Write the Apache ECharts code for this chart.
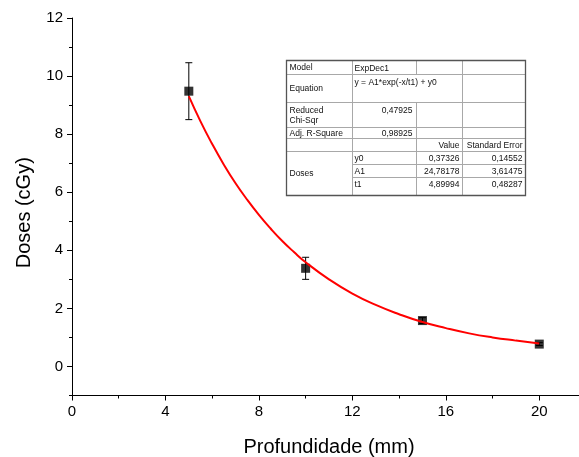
<!DOCTYPE html>
<html>
<head>
<meta charset="utf-8">
<script src="https://cdn.jsdelivr.net/npm/echarts@6/dist/echarts.min.js"></script>
<style>
  html, body { margin: 0; padding: 0; background: #fff; }
  #chart { width: 579px; height: 457px; }
</style>
</head>
<body>
<div id="chart"></div>
<script>
// measured points
const depths = [5, 10, 15, 20];
const doses = [9.48, 3.38, 1.58, 0.77];
const doseErrors = [0.98, 0.38, 0.1, 0.05];

// fitted curve
const fitX = [5, 5.5, 6, 6.5, 7, 7.5, 8, 8.5, 9, 9.5, 10, 11, 12, 13, 14, 15, 16, 17, 18, 19, 20];
const fitY = [9.31, 8.44, 7.66, 6.95, 6.31, 5.74, 5.22, 4.75, 4.32, 3.94, 3.59, 3.0, 2.51, 2.12, 1.8, 1.53, 1.32, 1.14, 1.0, 0.89, 0.79];

// tick labels
const xMajor = [0, 4, 8, 12, 16, 20];
const xMinor = [2, 6, 10, 14, 18, 22];
const yMajor = [0, 2, 4, 6, 8, 10, 12];
const yMinor = [-1, 1, 3, 5, 7, 9, 11];

// fit report table
const fitLabels = ['Model', 'Equation', 'Reduced\nChi-Sqr', 'Adj. R-Square'];
const fitValues = ['ExpDec1', 'y = A1*exp(-x/t1) + y0', '0,47925', '0,98925'];
const paramHeader = ['Value', 'Standard Error'];
const paramNames = ['y0', 'A1', 't1'];
const paramValues = ['0,37326', '24,78178', '4,89994'];
const paramErrors = ['0,14552', '3,61475', '0,48287'];
const seriesName = 'Doses';

const FONT = '"Liberation Sans", Arial, sans-serif';

// table layout (pixels)
const cx = [286.5, 352.5, 416.5, 462.5, 525.5];
const ry = [60.5, 74.5, 102.5, 127.5, 138.5, 151.5, 164.5, 177.5, 195.5];
const tFont = 8.5;
const inner = '#a8a8a8';
const outer = '#555';

function hline(y, x1, x2, c, w) {
  return { type: 'line', silent: true, shape: { x1: x1, y1: y, x2: x2, y2: y }, style: { stroke: c, lineWidth: w || 1 } };
}
function vline(x, y1, y2, c, w) {
  return { type: 'line', silent: true, shape: { x1: x, y1: y1, x2: x, y2: y2 }, style: { stroke: c, lineWidth: w || 1 } };
}
function txt(s, x, y, align, vAlign) {
  return {
    type: 'text', silent: true, x: x, y: y,
    style: { text: s, fontSize: tFont, fontFamily: FONT, fill: '#111', align: align, verticalAlign: vAlign, lineHeight: 9.5 }
  };
}

const table = [];
table.push({ type: 'rect', silent: true, shape: { x: cx[0], y: ry[0], width: cx[4] - cx[0], height: ry[8] - ry[0] }, style: { fill: '#fff', stroke: null } });
// horizontal lines
for (let i = 1; i <= 5; i++) table.push(hline(ry[i], cx[0], cx[4], inner));
table.push(hline(ry[6], cx[1], cx[4], inner));
table.push(hline(ry[7], cx[1], cx[4], inner));
// vertical lines
table.push(vline(cx[1], ry[0], ry[8], inner));
table.push(vline(cx[2], ry[0], ry[1], inner));
table.push(vline(cx[2], ry[2], ry[8], inner));
table.push(vline(cx[3], ry[0], ry[8], inner));
// outer frame
table.push({ type: 'rect', silent: true, shape: { x: cx[0], y: ry[0], width: cx[4] - cx[0], height: ry[8] - ry[0] }, style: { fill: null, stroke: outer, lineWidth: 1.3 } });

// text
fitLabels.forEach((s, i) => table.push(txt(s, cx[0] + 3, (ry[i] + ry[i + 1]) / 2 + 0.5, 'left', 'middle')));
table.push(txt(fitValues[0], cx[1] + 2, ry[0] + 3, 'left', 'top'));
table.push(txt(fitValues[1], cx[1] + 2, ry[1] + 3, 'left', 'top'));
table.push(txt(fitValues[2], cx[2] - 4, ry[2] + 3, 'right', 'top'));
table.push(txt(fitValues[3], cx[2] - 4, ry[3] + 1, 'right', 'top'));
table.push(txt(paramHeader[0], cx[3] - 3, ry[4] + 2, 'right', 'top'));
table.push(txt(paramHeader[1], cx[4] - 3, ry[4] + 2, 'right', 'top'));
table.push(txt(seriesName, cx[0] + 3, (ry[5] + ry[8]) / 2 + 0.5, 'left', 'middle'));
paramNames.forEach((s, i) => {
  table.push(txt(s, cx[1] + 2, ry[5 + i] + 2, 'left', 'top'));
  table.push(txt(paramValues[i], cx[3] - 3, ry[5 + i] + 2, 'right', 'top'));
  table.push(txt(paramErrors[i], cx[4] - 3, ry[5 + i] + 2, 'right', 'top'));
});

const axisText = { color: '#000', fontSize: 15, fontFamily: FONT };

// extra axes that only carry tick marks
function tickAxis(pos, min, max, values, len) {
  return {
    type: 'value', min: min, max: max, position: pos, offset: 0,
    axisLine: { show: false, onZero: false },
    axisTick: { show: true, inside: false, length: len, customValues: values, lineStyle: { color: '#000', width: 1 } },
    axisLabel: { show: false },
    splitLine: { show: false }
  };
}

const chart = echarts.init(document.getElementById('chart'), null, { renderer: 'canvas' });
chart.setOption({
  animation: false,
  backgroundColor: '#fff',
  grid: { left: 72, top: 18, right: -7, bottom: 61.5, containLabel: false, outerBoundsMode: 'none' },
  xAxis: [
    {
      type: 'value', min: 0, max: 22, position: 'bottom',
      name: 'Profundidade (mm)', nameLocation: 'middle', nameGap: 42,
      nameTextStyle: { color: '#000', fontSize: 20, fontFamily: FONT },
      axisLine: { show: true, onZero: false, lineStyle: { color: '#000', width: 1 } },
      axisTick: { show: false },
      axisLabel: Object.assign({ margin: 9, customValues: xMajor }, axisText),
      splitLine: { show: false }
    },
    tickAxis('bottom', 0, 22, xMajor, 5),
    tickAxis('bottom', 0, 22, xMinor, 3)
  ],
  yAxis: [
    {
      type: 'value', min: -1, max: 12, position: 'left',
      name: 'Doses (cGy)', nameLocation: 'middle', nameGap: 38,
      nameTextStyle: { color: '#000', fontSize: 20, fontFamily: FONT, padding: [0, 12, 0, 0] },
      axisLine: { show: true, onZero: false, lineStyle: { color: '#000', width: 1 } },
      axisTick: { show: false },
      axisLabel: Object.assign({ margin: 9, customValues: yMajor }, axisText),
      splitLine: { show: false }
    },
    tickAxis('left', -1, 12, yMajor, 5),
    tickAxis('left', -1, 12, yMinor, 3)
  ],
  series: [
    {
      type: 'custom',
      name: 'error',
      xAxisIndex: 0, yAxisIndex: 0,
      z: 2,
      data: depths.map((d, i) => [d, doses[i] - doseErrors[i], doses[i] + doseErrors[i]]),
      renderItem: function (params, api) {
        const lo = api.coord([api.value(0), api.value(1)]);
        const hi = api.coord([api.value(0), api.value(2)]);
        const cap = 3.5;
        const st = { stroke: '#000', lineWidth: 1 };
        return {
          type: 'group',
          children: [
            { type: 'line', shape: { x1: lo[0], y1: lo[1], x2: hi[0], y2: hi[1] }, style: st },
            { type: 'line', shape: { x1: hi[0] - cap, y1: hi[1], x2: hi[0] + cap, y2: hi[1] }, style: st },
            { type: 'line', shape: { x1: lo[0] - cap, y1: lo[1], x2: lo[0] + cap, y2: lo[1] }, style: st }
          ]
        };
      }
    },
    {
      type: 'scatter',
      name: seriesName,
      xAxisIndex: 0, yAxisIndex: 0,
      z: 3,
      symbol: 'rect',
      symbolSize: 9,
      itemStyle: { color: '#000' },
      data: depths.map((d, i) => [d, doses[i]])
    },
    {
      type: 'line',
      name: 'fit',
      xAxisIndex: 0, yAxisIndex: 0,
      z: 4,
      smooth: true,
      showSymbol: false,
      lineStyle: { color: '#ff0000', width: 2 },
      data: fitX.map((x, i) => [x, fitY[i]])
    }
  ],
  graphic: { elements: table }
});
</script>
</body>
</html>
